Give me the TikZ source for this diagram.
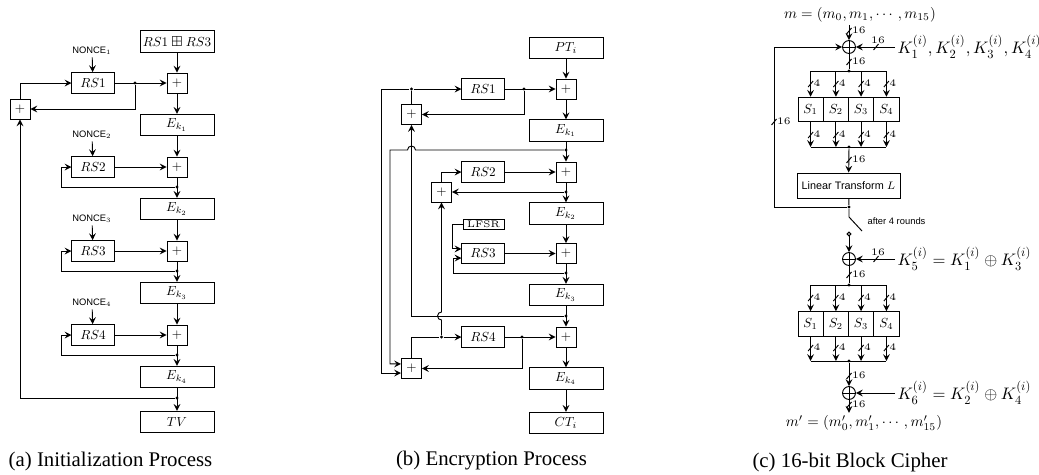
\documentclass[tikz,border=0pt]{standalone}
\usepackage{amsmath,amssymb}
\usepackage[no-math]{fontspec}
\usepackage{tikz}
\newfontfamily\capfont{Liberation Serif}
\newfontfamily\lblfont{Liberation Sans}
% keep the 10pt designs for small math, as in a scaled-down figure
\begingroup\usefont{OT1}{cmr}{m}{n}\usefont{OML}{cmm}{m}{it}\usefont{OMS}{cmsy}{m}{n}\endgroup
\DeclareFontShape{OT1}{cmr}{m}{n}{<-3.8>cmr5<3.8-5.5>cmr7<5.5->cmr10}{}
\DeclareFontShape{OML}{cmm}{m}{it}{<-3.8>cmmi5<3.8-5.5>cmmi7<5.5->cmmi10}{}
\DeclareFontShape{OMS}{cmsy}{m}{n}{<-3.8>cmsy5<3.8-5.5>cmsy7<5.5->cmsy10}{}

% bus width marks: name, x, y, label
\newcommand{\vbus}[4]{%
  \draw (#2-2.5,#3+3) -- (#2+2.5,#3-3);
  \node[buslbl,anchor=west] (#1) at (#2+1.5,#3-1) {#4};}
\newcommand{\hbus}[4]{%
  \draw (#2-2.5,#3+3) -- (#2+2.5,#3-3);
  \node[buslbl,anchor=south] (#1) at (#2+2,#3-2) {#4};}

\begin{document}
\begin{tikzpicture}[x=0.48pt,y=-0.48pt,>=stealth,line width=0.45pt,
  font=\fontsize{6.3}{7}\selectfont,
  blk/.style={draw,minimum width=35.5pt,minimum height=10.3pt,inner sep=0pt},
  rsblk/.style={draw,minimum width=20.2pt,minimum height=10pt,inner sep=0pt},
  addblk/.style={draw,minimum size=9.6pt,inner sep=0pt},
  lfsrblk/.style={draw,minimum width=19.7pt,minimum height=4.4pt,inner sep=0pt,
    font=\fontsize{4.6}{5}\selectfont},
  sblk/.style={draw,minimum width=12.1pt,minimum height=11.8pt,inner sep=0pt},
  ltblk/.style={draw,minimum width=49.4pt,minimum height=12pt,inner sep=0pt},
  xorc/.style={circle,draw,minimum size=6.2pt,inner sep=0pt},
  dot/.style={circle,fill,inner sep=0pt,minimum size=1.5pt},
  noncelbl/.style={font=\lblfont\fontsize{4.5}{5}\selectfont,inner sep=1pt},
  buslbl/.style={font=\fontsize{4.8}{5}\selectfont,inner sep=0.5pt},
  keylbl/.style={font=\fontsize{8}{9}\selectfont,inner sep=1pt},
  msglbl/.style={font=\fontsize{7.1}{8}\selectfont,inner sep=1pt},
  captxt/.style={font=\capfont\fontsize{10}{12}\selectfont}]
  \useasboundingbox (0,0) rectangle (1039,474);

  % ---- (a) initialization
  \node[blk] (top) at (177,41.5) {$RS1\boxplus RS3$};
  \foreach \i/\y in {1/83,2/167,3/251,4/335}{
    \node[rsblk] (rs\i) at (93,\y) {$RS\i$};
    \node[addblk] (add\i) at (177,\y) {$+$};
    \node[blk] (ek\i) at (177,\y+42) {$E_{k_\i}$};
    \node[noncelbl] (nc\i) at (92,\y-32) {NONCE$_\i$};
    \draw[->] (nc\i) -- (rs\i);
    \draw[->] (rs\i) -- (add\i);
    \draw[->] (add\i) -- (ek\i);
  }
  \foreach \i/\j in {1/2,2/3,3/4}{
    \draw[->] (ek\i) -- (add\j);
    \node[dot] (lp\j) at (177,\j*84-1+20) {};
    \draw[->] (lp\j) -- ++(-116,0) |- (rs\j);
  }
  \draw[->] (top) -- (add1);
  \node[dot] (jn1) at (135,83) {};
  \node[addblk] (addL) at (20,109) {$+$};
  \draw[->] (jn1) |- (addL);
  \draw[->] (addL) |- (rs1);
  \node[blk] (tv) at (177,422) {$TV$};
  \node[dot] (fb) at (177,398) {};
  \draw[->] (ek4) -- (tv);
  \draw[->] (fb) -| (addL);
  \node[captxt] (capa) at (110.5,461) {(a) Initialization Process};

  % ---- (b) encryption
  \node[blk] (pt) at (566,48) {$PT_i$};
  \foreach \i/\y in {1/89,2/172,3/253.5,4/337}{
    \node[rsblk] (brs\i) at (483,\y) {$RS\i$};
    \node[addblk] (bp\i) at (566,\y) {$+$};
    \node[blk] (be\i) at (566,\y+41.5) {$E_{k_\i}$};
    \draw[->] (brs\i) -- (bp\i);
    \draw[->] (bp\i) -- (be\i);
  }
  \foreach \i/\j in {1/2,2/3,3/4}{
    \draw[->] (be\i) -- (bp\j);
  }
  \node[blk] (ct) at (566,423) {$CT_i$};
  \draw[->] (pt) -- (bp1);
  \draw[->] (be4) -- (ct);
  \foreach \n/\y in {bd1/150,bd2/192,bd3/273,bd4/316}{
    \node[dot] (\n) at (566,\y) {};
  }
  \node[addblk] (bq1) at (411.5,114.5) {$+$};
  \node[addblk] (bq2) at (441.5,192) {$+$};
  \node[addblk] (bq4) at (411.5,368.5) {$+$};
  \node[dot] (bj1) at (524,89) {};
  \node[dot] (bk1) at (411.5,89) {};
  \node[dot] (bj4) at (522,337) {};
  \node[dot] (bk4) at (441.5,337) {};
  \node[lfsrblk] (lfsr) at (483.5,224.5) {LFSR};
  % row 1
  \draw[->] (bj1) |- (bq1);
  \draw (bq1) -- (bk1);
  \draw[->] (bk1) -- (brs1);
  \draw[->] (bk1) -- ++(-30.5,0) |- ([yshift=-2.2pt]bq4.west);
  \draw[->] (bd1) -- (415.5,150) arc[start angle=0,end angle=-180,radius=4]
    -- (390,150) |- ([yshift=2.2pt]bq4.west);
  \draw[->] (bd4) -| (bq1);
  % row 2
  \draw[->] (bd2) -- (bq2);
  \draw[->] (bq2) |- (brs2);
  \draw[->] (bk4) -- (441.5,320) arc[start angle=90,end angle=270,radius=4] -- (bq2);
  % row 3
  \draw[->] (lfsr.west) -- ++(-10.5,0) |- ([yshift=2.2pt]brs3.west);
  \draw[->] (bd3) -- ++(-113,0) |- ([yshift=-2.2pt]brs3.west);
  % row 4
  \draw[->] (bj4) |- (bq4);
  \draw (bq4) |- (bk4);
  \draw[->] (bk4) -- (brs4);
  \node[captxt] (capb) at (491.5,461) {(b) Encryption Process};

  % ---- (c) block cipher
  \node[msglbl] (msg) at (860,15) {$m=(m_0,m_1,\cdots,m_{15})$};
  \node[xorc] (xo1) at (849,47) {};
  \node[xorc] (xo2) at (849,259) {};
  \node[xorc] (xo3) at (849,393) {};
  \foreach \n in {xo1,xo2,xo3}{
    \draw (\n.north) -- (\n.south) (\n.west) -- (\n.east);
  }
  \node[keylbl,anchor=west] (key1) at (895,47) {$K_1^{(i)},K_2^{(i)},K_3^{(i)},K_4^{(i)}$};
  \node[keylbl,anchor=west] (key5) at (895,259) {$K_5^{(i)}=K_1^{(i)}\oplus K_3^{(i)}$};
  \node[keylbl,anchor=west] (key6) at (895,393) {$K_6^{(i)}=K_2^{(i)}\oplus K_4^{(i)}$};
  \draw[->] (xo1 |- msg.south) -- (xo1);
  \vbus{w1}{849}{31}{16}
  \draw[->] (key1) -- (xo1);
  \hbus{w2}{876}{47}{16}
  \foreach \n/\y in {cd1/71,cd2/147,cd3/207,cd4/285,cd5/361}{
    \node[dot] (\n) at (849,\y) {};
  }
  \draw (xo1) -- (cd1);
  \vbus{w3}{849}{62}{16}
  \foreach \i/\x in {1/810.6,2/835.9,3/861.1,4/886.4}{
    \node[sblk] (sa\i) at (\x,109.5) {$S_\i$};
    \draw[->] (sa\i |- cd1) -- (sa\i);
    \draw[->] (sa\i) -- (sa\i |- cd2);
    \vbus{wa\i}{\x}{84}{4}
    \vbus{wb\i}{\x}{135}{4}
    \node[sblk] (sc\i) at (\x,324) {$S_\i$};
    \draw[->] (sc\i |- cd4) -- (sc\i);
    \draw[->] (sc\i) -- (sc\i |- cd5);
    \vbus{wc\i}{\x}{298}{4}
    \vbus{wd\i}{\x}{348}{4}
  }
  \draw (sa1 |- cd1) -- (sa4 |- cd1);
  \draw (sa1 |- cd2) -- (sa4 |- cd2);
  \draw (sc1 |- cd4) -- (sc4 |- cd4);
  \draw (sc1 |- cd5) -- (sc4 |- cd5);
  \node[ltblk] (lt) at (848.5,185.5) {\lblfont\fontsize{5.2}{6}\selectfont Linear Transform $L$};
  \draw[->] (cd2) -- (lt);
  \vbus{w4}{849}{160}{16}
  \draw (lt) -- (cd3);
  \draw[->] (cd3) -- ++(-75,0) |- (xo1);
  \vbus{w5}{774}{122}{16}
  % switch
  \draw (cd3) -- ++(0,10) -- ++(13,14);
  \node[noncelbl,anchor=west] (rnd) at (865,221) {after 4 rounds};
  \node[circle,draw,inner sep=0pt,minimum size=1.8pt] (sw) at (849,234) {};
  \draw[->] (sw) -- (xo2);
  \draw[->] (key5) -- (xo2);
  \hbus{w6}{876}{259}{16}
  \draw (xo2) -- (cd4);
  \vbus{w7}{849}{275}{16}
  \draw[->] (cd5) -- (xo3);
  \vbus{w8}{849}{376}{16}
  \draw[->] (key6) -- (xo3);
  \node[msglbl] (msgo) at (864,423) {$m'=(m'_0,m'_1,\cdots,m'_{15})$};
  \draw[->] (xo3) -- (xo3 |- msgo.north);
  \vbus{w9}{849}{405}{16}
  \node[captxt] (capc) at (850,462) {(c) 16-bit Block Cipher};
\end{tikzpicture}
\end{document}
